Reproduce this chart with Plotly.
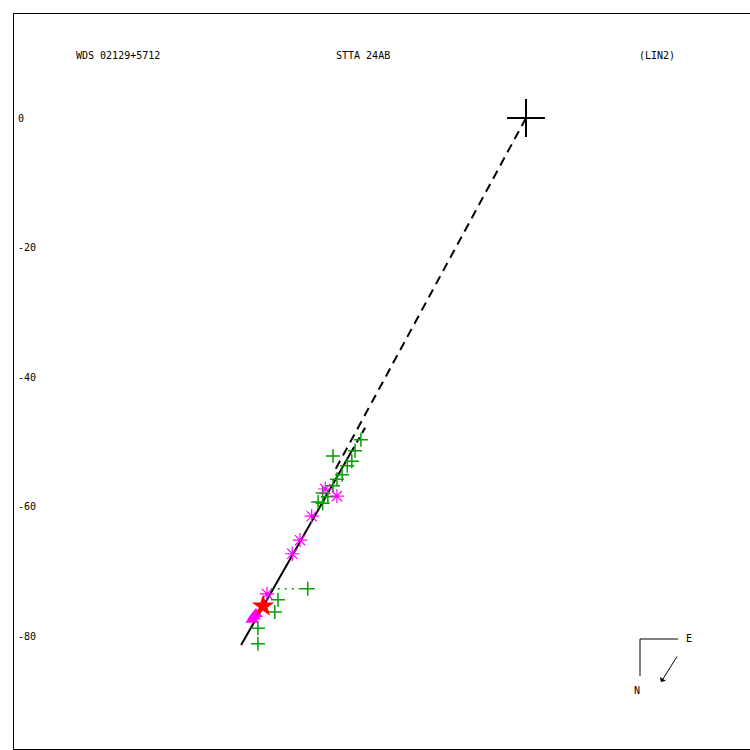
import plotly.graph_objects as go

# ---------------- data (arcsec-like offsets, X to the right, Y up) ----------------
plus_x = [-25.5, -26.4, -29.8, -26.9, -27.6, -28.4, -29.2, -29.8, -30.6, -31.4, -32.1, -31.4,
          -33.7, -38.3, -38.8, -41.4, -41.4]
plus_y = [-49.7, -51.4, -52.2, -53.0, -53.7, -55.1, -55.8, -56.8, -58.5, -57.9, -59.3, -59.5,
          -72.7, -74.4, -76.3, -78.8, -81.2]

ast_x = [-31.0, -29.2, -33.1, -34.9, -36.1, -40.0]
ast_y = [-57.3, -58.4, -61.5, -65.2, -67.3, -73.5]

star_x = [-40.6]
star_y = [-75.4]

tri_x = [-41.7, -42.3, -42.0]
tri_y = [-76.6, -77.5, -77.0]

primary_x = [0.0]
primary_y = [0.0]

# linear fit: solid part and dashed extension
fit_x = [-44.0, -27.0]
fit_y = [-81.4, -51.6]
fit_ext_x = [-27.0, -24.7]
fit_ext_y = [-51.6, -47.6]

# dashed line from primary
pri_line_x = [0.0, -29.5]
pri_line_y = [0.0, -54.4]

# O-C dotted residual
oc_x = [-33.7, -40.2]
oc_y = [-72.7, -72.7]

yticks = [0, -20, -40, -60, -80]
title_left = "WDS 02129+5712"
title_mid = "STTA 24AB"
title_right = "(LIN2)"

# ---------------- geometry helpers (window pixel -> data) ----------------
X0, SC, Y0 = 526.0, 6.475, 118.0
def px_x(p):
    return (p - X0) / SC
def px_y(p):
    return (Y0 - p) / SC

FONT = dict(family="DejaVu Sans Mono", size=10, color="black")
GREEN = "#00a000"
MAG = "#ff00ff"

fig = go.Figure()

fig.add_trace(go.Scatter(x=pri_line_x, y=pri_line_y, mode="lines",
                         line=dict(color="black", width=2, dash="9px,6px"), hoverinfo="skip"))
fig.add_trace(go.Scatter(x=fit_ext_x, y=fit_ext_y, mode="lines",
                         line=dict(color="black", width=2, dash="6px,5px"), hoverinfo="skip"))
fig.add_trace(go.Scatter(x=fit_x, y=fit_y, mode="lines",
                         line=dict(color="black", width=2), hoverinfo="skip"))
fig.add_trace(go.Scatter(x=oc_x, y=oc_y, mode="lines",
                         line=dict(color=GREEN, width=1.5, dash="2px,5px"), hoverinfo="skip"))

fig.add_trace(go.Scatter(x=plus_x, y=plus_y, mode="markers",
                         marker=dict(symbol="cross-thin", size=10, color=GREEN,
                                     line=dict(color=GREEN, width=1.5))))
fig.add_trace(go.Scatter(x=ast_x, y=ast_y, mode="markers",
                         marker=dict(symbol="asterisk-open", size=12, color=MAG,
                                     line=dict(color=MAG, width=1.2))))
fig.add_trace(go.Scatter(x=tri_x, y=tri_y, mode="markers",
                         marker=dict(symbol="triangle-up", size=12, color=MAG,
                                     line=dict(width=0))))
fig.add_trace(go.Scatter(x=star_x, y=star_y, mode="markers",
                         marker=dict(symbol="star", size=17, color="#ff0000",
                                     line=dict(width=0))))
fig.add_trace(go.Scatter(x=primary_x, y=primary_y, mode="markers",
                         marker=dict(symbol="cross-thin", size=27, color="black",
                                     line=dict(color="black", width=2))))

annotations = []
for t in yticks:
    annotations.append(dict(x=0, xref="paper", y=t, yref="y", text=str(t),
                            showarrow=False, xanchor="left", xshift=2, font=FONT))
annotations.append(dict(x=px_x(74), y=px_y(55), text=title_left, showarrow=False,
                        xanchor="left", yanchor="middle", font=FONT))
annotations.append(dict(x=px_x(334), y=px_y(55), text=title_mid, showarrow=False,
                        xanchor="left", yanchor="middle", font=FONT))
annotations.append(dict(x=px_x(637), y=px_y(55), text=title_right, showarrow=False,
                        xanchor="left", yanchor="middle", font=FONT))
# compass
annotations.append(dict(x=px_x(684), y=px_y(638), text="E", showarrow=False,
                        xanchor="left", yanchor="middle", font=FONT))
annotations.append(dict(x=px_x(637), y=px_y(690), text="N", showarrow=False,
                        xanchor="center", yanchor="middle", font=FONT))
annotations.append(dict(x=px_x(661), y=px_y(682), ax=17, ay=-27, text="",
                        showarrow=True, arrowhead=1, arrowsize=1.2, arrowwidth=1,
                        arrowcolor="black"))

shapes = [
    dict(type="line", x0=px_x(640), y0=px_y(639), x1=px_x(678), y1=px_y(639),
         line=dict(color="black", width=1)),
    dict(type="line", x0=px_x(640), y0=px_y(639), x1=px_x(640), y1=px_y(676),
         line=dict(color="black", width=1)),
]

# plot area spans window px 14..750 x 14..749 (page margin removed below)
fig.update_layout(
    width=750, height=750,
    margin=dict(l=14, r=0, t=14, b=1),
    paper_bgcolor="white", plot_bgcolor="white",
    showlegend=False,
    annotations=annotations, shapes=shapes,
    xaxis=dict(range=[px_x(14), px_x(750)], showgrid=False, zeroline=False,
               showticklabels=False, ticks="", showline=True, linecolor="black",
               linewidth=1, mirror=True),
    yaxis=dict(range=[px_y(749), px_y(14)], showgrid=False, zeroline=False,
               showticklabels=False, ticks="", showline=True, linecolor="black",
               linewidth=1, mirror=False),
)

fig.write_html("out.html", config={"displayModeBar": False},
               post_script="document.body.style.margin='0';document.body.style.overflow='hidden';")
